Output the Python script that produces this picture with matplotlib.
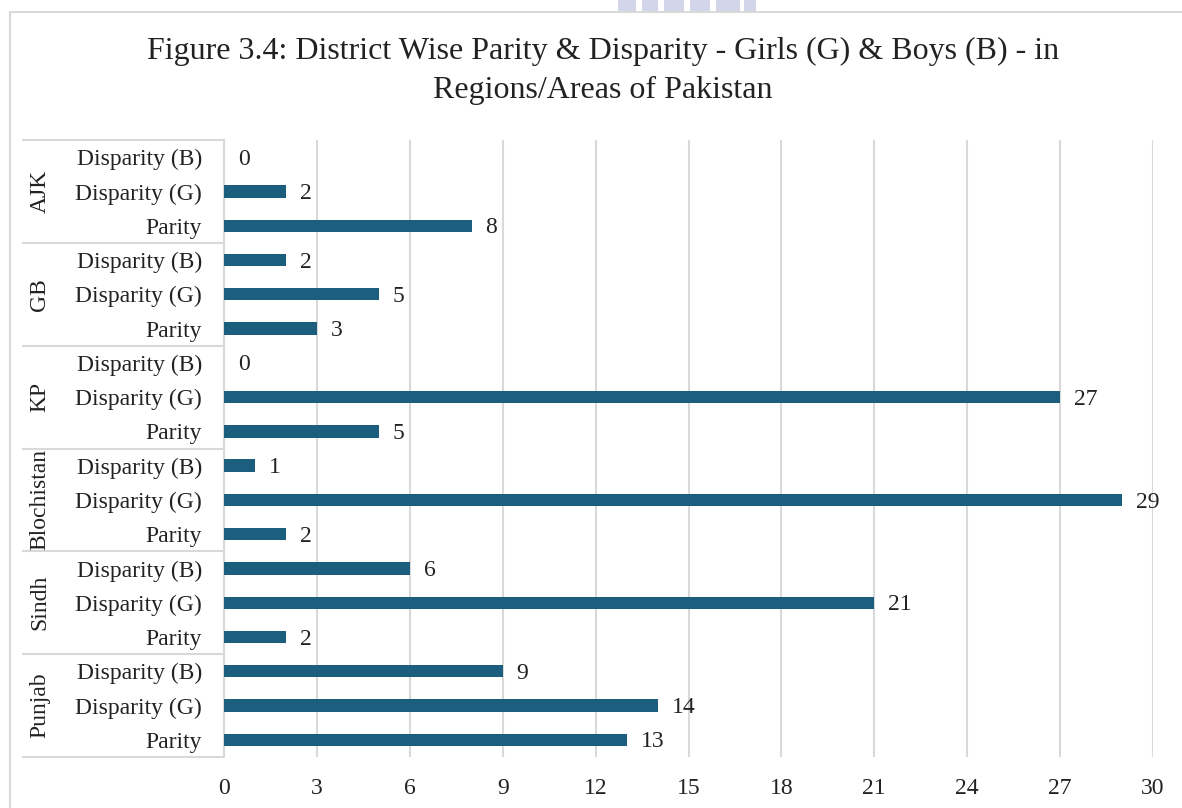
import matplotlib.pyplot as plt
import matplotlib.transforms as mtransforms
from matplotlib.lines import Line2D
from matplotlib.patches import Rectangle
import numpy as np

plt.rcParams['font.family'] = ['Liberation Serif', 'DejaVu Serif']

# Data (top to bottom as shown)
regions = ["AJK", "GB", "KP", "Blochistan", "Sindh", "Punjab"]
sub_labels = ["Disparity (B)", "Disparity (G)", "Parity"]
ajk = [0, 2, 8]
gb = [2, 5, 3]
kp = [0, 27, 5]
blochistan = [1, 29, 2]
sindh = [6, 21, 2]
punjab = [9, 14, 13]
x_ticks = [0, 3, 6, 9, 12, 15, 18, 21, 24, 27, 30]

values = ajk + gb + kp + blochistan + sindh + punjab
labels = sub_labels * len(regions)
bar_color = "#1b5e7e"
grid_color = "#d9d9d9"

fig = plt.figure(figsize=(11.82, 8.08), dpi=100)
ax = fig.add_axes([224 / 1182, 1 - 757 / 808, (1153 - 224) / 1182, (757 - 140) / 808])

y = np.arange(len(values))
ax.barh(y, values, height=0.36, color=bar_color, zorder=3)
ax.set_ylim(len(values) - 0.5, -0.5)
ax.set_xlim(0, 30)

# value labels
for yi, v in zip(y, values):
    ax.annotate(str(v), (v, yi), xytext=(10, -1.5), textcoords="offset points",
                va="center", ha="left", fontsize=17, color="#222222")

ax.set_yticks(y)
ax.set_yticklabels(labels, fontsize=17, color="#222222")
ax.set_xticks(x_ticks)
ax.set_xticklabels([str(t) for t in x_ticks], fontsize=17, color="#222222")
ax.tick_params(axis="y", length=0, pad=16)
ax.tick_params(axis="x", length=0, pad=15)

ax.grid(axis="x", color=grid_color, linewidth=1.5, zorder=0)
for s in ["top", "right", "bottom"]:
    ax.spines[s].set_visible(False)
ax.spines["left"].set_color(grid_color)
ax.spines["left"].set_linewidth(1.5)

# group labels and separator lines
trans = mtransforms.blended_transform_factory(fig.transFigure, ax.transData)
x0, x1 = 23 / 1182, 223 / 1182
for i, name in enumerate(regions):
    mid = i * 3 + 1
    fig.text(40 / 1182, mid, name, transform=trans, rotation=90,
             ha="center", va="center", fontsize=17, color="#222222")
for b in range(len(regions) + 1):
    yb = b * 3 - 0.5
    fig.add_artist(Line2D([x0, x1], [yb, yb], transform=trans,
                          color=grid_color, linewidth=1.5))

# chart border
fig.add_artist(Line2D([10 / 1182, 10 / 1182, 1.0], [0.0, 1 - 12 / 808, 1 - 12 / 808],
                      transform=fig.transFigure, color=grid_color, linewidth=1.5))

# faint watermark remnant at top
for xl, w in [(618, 18), (642, 16), (664, 20), (690, 20), (716, 24), (744, 12)]:
    fig.add_artist(Rectangle((xl / 1182, 1 - 12 / 808), w / 1182, 12 / 808,
                             transform=fig.transFigure, color="#d3d5ea", linewidth=0))

fig.text(603 / 1182, 1 - 71 / 808,
         "Figure 3.4: District Wise Parity & Disparity - Girls (G) & Boys (B) - in\nRegions/Areas of Pakistan",
         ha="center", va="center", fontsize=23, color="#222222", linespacing=1.45)

fig.savefig("out.png", dpi=100)
